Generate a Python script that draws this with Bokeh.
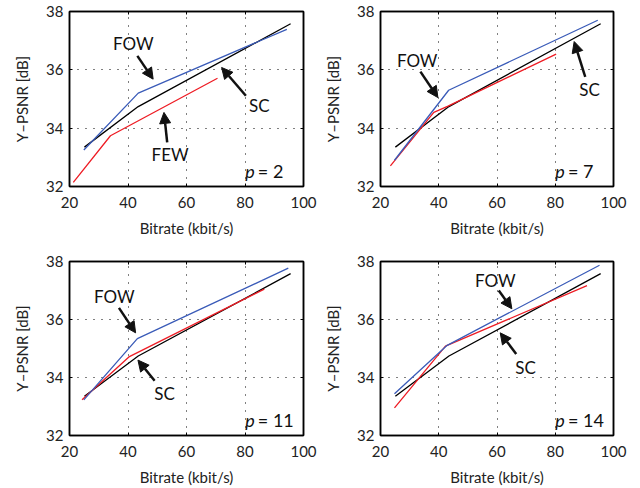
from bokeh.plotting import figure
from bokeh.layouts import column, row
from bokeh.models import (ColumnDataSource, FixedTicker, LinearAxis, Arrow,
                          NormalHead)
from bokeh.embed import file_html
from bokeh.resources import INLINE
from bokeh.core.properties import value

# ---- data -------------------------------------------------------------
p_values = [2, 7, 11, 14]

# SC reference curve (same in every panel)
sc_rate = [25.1, 43.5, 95.6]
sc_psnr = [33.35, 34.74, 37.58]

# FOW curves per p
fow_rate = {
    2: [24.9, 43.5, 94.3],
    7: [24.8, 43.4, 94.6],
    11: [24.9, 43.2, 94.8],
    14: [24.8, 42.9, 95.2],
}
fow_psnr = {
    2: [33.25, 35.20, 37.39],
    7: [32.90, 35.30, 37.70],
    11: [33.23, 35.34, 37.77],
    14: [33.44, 35.11, 37.87],
}

# FEW curves per p
few_rate = {
    2: [21.3, 34.0, 70.6],
    7: [23.4, 38.3, 43.0, 80.3],
    11: [24.3, 40.3, 86.6],
    14: [24.8, 42.3, 90.9],
}
few_psnr = {
    2: [32.14, 33.74, 35.71],
    7: [32.71, 34.54, 34.75, 36.54],
    11: [33.23, 34.71, 37.05],
    14: [32.95, 35.08, 37.17],
}

# curve callouts: label, label position, arrow start, arrow tip
callout_text = {
    2: ["FOW", "SC", "FEW"],
    7: ["FOW", "SC"],
    11: ["FOW", "SC"],
    14: ["FOW", "SC"],
}
callout_x = {2: [41.8, 84.9, 54.4], 7: [32.6, 91.8], 11: [35.3, 52.5], 14: [59.4, 69.8]}
callout_y = {2: [36.91, 34.77, 33.09], 7: [36.33, 35.34], 11: [36.78, 33.45], 14: [37.36, 34.35]}
arrow_x0 = {2: [43.2, 80.3, 53.4], 7: [33.7, 90.3], 11: [36.9, 49.1], 14: [60.6, 66.6]}
arrow_y0 = {2: [36.48, 35.11, 33.51], 7: [35.94, 35.76], 11: [36.40, 33.89], 14: [37.00, 34.81]}
arrow_x1 = {2: [48.6, 72.0, 52.3], 7: [39.7, 86.5], 11: [42.6, 43.4], 14: [65.1, 61.1]}
arrow_y1 = {2: [35.68, 36.08, 34.54], 7: [35.05, 36.97], 11: [35.54, 34.60], 14: [36.37, 35.54]}

x_ticks = [20, 40, 60, 80, 100]
y_ticks = [32, 34, 36, 38]

FONT = "Lato"
BLUE = "#3a5bb8"
RED = "#ee1c24"
INK = "#111111"

# panel borders (left, right, top, bottom)
borders = {
    2: (69, 17, 11, 58),
    7: (60, 27, 11, 58),
    11: (69, 17, 17, 51),
    14: (60, 27, 17, 51),
}


def make_panel(pv):
    bl, br, bt, bb = borders[pv]
    f = figure(width=320, height=244, x_range=(20, 100), y_range=(32, 38),
               output_backend="svg", toolbar_location=None,
               min_border_left=bl, min_border_right=br,
               min_border_top=bt, min_border_bottom=bb,
               x_axis_label="Bitrate (kbit/s)",
               y_axis_label="Y\u2013PSNR [dB]")
    f.outline_line_color = "black"
    f.outline_line_width = 1.5

    for ax in (f.xaxis[0], f.yaxis[0]):
        ax.major_tick_in = 3
        ax.major_tick_out = 0
        ax.minor_tick_line_color = None
        ax.axis_line_width = 1.5
        ax.major_label_text_font = FONT
        ax.major_label_text_font_size = "15px"
        ax.major_label_text_color = "#222222"
        ax.axis_label_text_font = FONT
        ax.axis_label_text_font_size = "15px"
        ax.axis_label_text_font_style = "normal"
        ax.axis_label_text_color = "#222222"
    f.xaxis[0].ticker = FixedTicker(ticks=x_ticks)
    f.yaxis[0].ticker = FixedTicker(ticks=y_ticks)
    f.xaxis[0].major_label_standoff = 10
    f.xaxis[0].axis_label_standoff = 8
    f.yaxis[0].major_label_standoff = 6
    f.yaxis[0].axis_label_standoff = 12

    # tick marks on the top and right edges of the box (no labels)
    top = LinearAxis(ticker=FixedTicker(ticks=x_ticks))
    right = LinearAxis(ticker=FixedTicker(ticks=y_ticks))
    for ax in (top, right):
        ax.major_tick_in = 3
        ax.major_tick_out = 0
        ax.minor_tick_line_color = None
        ax.major_label_text_color = None
        ax.major_label_text_font_size = "1px"
        ax.major_label_standoff = 0
        ax.axis_line_width = 1.5
    f.add_layout(top, "above")
    f.add_layout(right, "right")

    f.xgrid[0].ticker = FixedTicker(ticks=x_ticks)
    f.ygrid[0].ticker = FixedTicker(ticks=y_ticks)
    for g in (f.xgrid[0], f.ygrid[0]):
        g.grid_line_color = "black"
        g.grid_line_dash = "1 7"
        g.grid_line_width = 1

    f.line(sc_rate, sc_psnr, line_color="black", line_width=1.3)
    f.line(few_rate[pv], few_psnr[pv], line_color=RED, line_width=1.3)
    f.line(fow_rate[pv], fow_psnr[pv], line_color=BLUE, line_width=1.3)

    src = ColumnDataSource(dict(
        text=callout_text[pv], x=callout_x[pv], y=callout_y[pv],
        x0=arrow_x0[pv], y0=arrow_y0[pv], x1=arrow_x1[pv], y1=arrow_y1[pv]))
    f.text(x="x", y="y", text="text", source=src, text_align="center",
           text_baseline="middle", text_font=value(FONT),
           text_font_size="17px", text_color=INK)
    f.add_layout(Arrow(source=src, x_start="x0", y_start="y0",
                       x_end="x1", y_end="y1", line_width=2.5,
                       line_color=INK,
                       end=NormalHead(size=11, fill_color=INK,
                                      line_color=INK, line_width=1)))

    # "p = n" tag, with an italic p
    f.text(x=[83.3], y=[32.52], text=["p"], text_align="right",
           text_baseline="alphabetic", text_font=value(FONT),
           text_font_style="italic", text_font_size="18px", text_color=INK)
    f.text(x=[84.4], y=[32.52], text=[f"= {pv}"], text_align="left",
           text_baseline="alphabetic", text_font=value(FONT),
           text_font_size="18px", text_color=INK)
    return f


panels = [make_panel(pv) for pv in p_values]
layout = column(row(panels[0], panels[1]), row(panels[2], panels[3]))

open("out.html", "w").write(file_html(layout, INLINE))
